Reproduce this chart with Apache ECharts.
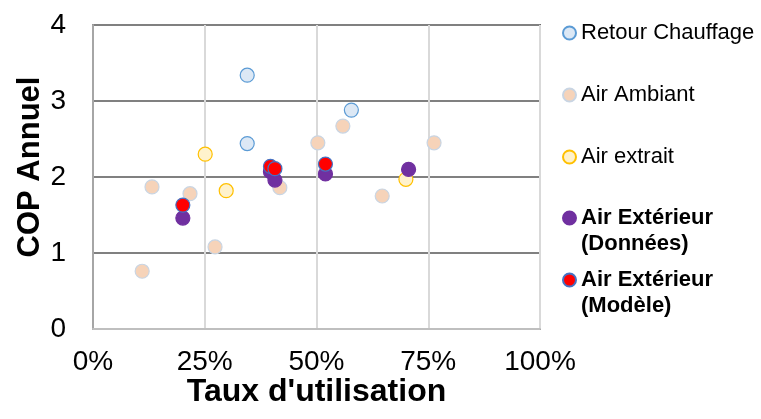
<!DOCTYPE html>
<html>
<head>
<meta charset="utf-8">
<title>COP Annuel</title>
<script src="https://cdn.jsdelivr.net/npm/echarts@6/dist/echarts.min.js"></script>
<style>
    html, body { margin: 0; padding: 0; background: #fff; }
    #chart { width: 761px; height: 419px; }
</style>
</head>
<body>
<div id="chart"></div>
<script>
// 数据：[taux d'utilisation, COP annuel]
const retourChauffage = [[0.345, 3.34], [0.345, 2.44], [0.578, 2.88]];
const airAmbiant = [
    [0.132, 1.87], [0.217, 1.78], [0.110, 0.76], [0.273, 1.08], [0.418, 1.86],
    [0.503, 2.45], [0.559, 2.67], [0.647, 1.75], [0.763, 2.45]
];
const airExtrait = [[0.251, 2.30], [0.298, 1.82], [0.700, 1.97]];
const airExtDonnees = [[0.201, 1.46], [0.397, 2.07], [0.407, 1.96], [0.520, 2.04], [0.706, 2.10]];
const airExtModele = [[0.201, 1.63], [0.397, 2.14], [0.407, 2.11], [0.520, 2.17]];

const seriesNames = [
    'Retour Chauffage',
    'Air Ambiant',
    'Air extrait',
    'Air Extérieur\n(Données)',
    'Air Extérieur\n(Modèle)'
];
const xTicks = [0, 0.25, 0.5, 0.75, 1];
const yTicks = [0, 1, 2, 3, 4];

const FONT = '"Liberation Sans", Arial, sans-serif';

const styles = [
    { color: '#dce8f5', borderColor: '#5b9bd5' },
    { color: '#f6d3b9', borderColor: '#c9d5e3' },
    { color: '#fff2cc', borderColor: '#ffc000' },
    { color: '#7030a0', borderColor: '#7030a0' },
    { color: '#ff0000', borderColor: '#4472c4' }
];
const seriesData = [retourChauffage, airAmbiant, airExtrait, airExtDonnees, airExtModele];

// 图例位置（图标中心）
const legendCenters = [33, 95, 157, 218, 280];

function makeLegend(name, i) {
    const twoLines = name.indexOf('\n') >= 0;
    return {
        data: [name],
        orient: 'vertical',
        left: 562,
        // 两行图例：前面加一个空行，让图标对齐第一行
        top: twoLines ? legendCenters[i] - 39 : legendCenters[i] - 13,
        padding: 0,
        icon: 'circle',
        itemWidth: 13,
        itemHeight: 13,
        selectedMode: false,
        formatter: n => (twoLines ? '\u00a0\n' + n : n),
        textStyle: {
            fontFamily: FONT,
            fontSize: 22,
            lineHeight: 26,
            color: '#000',
            fontWeight: twoLines ? 'bold' : 'normal'
        }
    };
}

const chart = echarts.init(document.getElementById('chart'));

const option = {
    animation: false,
    textStyle: { fontFamily: FONT },
    grid: {
        left: 93,
        right: 221,
        top: 25,
        bottom: 90,
        show: true,
        borderColor: '#6e6e6e',
        borderWidth: 2
    },
    legend: seriesNames.map(makeLegend),
    xAxis: {
        type: 'value',
        min: xTicks[0],
        max: xTicks[xTicks.length - 1],
        interval: 0.25,
        name: "Taux d'utilisation",
        nameLocation: 'middle',
        nameGap: 47,
        nameMoveOverlap: false,
        nameTextStyle: { fontSize: 32, fontWeight: 'bold', color: '#000', fontFamily: FONT },
        axisLine: { show: true, lineStyle: { color: '#bfbfbf', width: 2 } },
        axisTick: { show: false },
        axisLabel: {
            fontSize: 28,
            color: '#000',
            margin: 19,
            formatter: v => Math.round(v * 100) + '%'
        },
        splitLine: { show: true, lineStyle: { color: '#d9d9d9', width: 2 } }
    },
    yAxis: {
        type: 'value',
        min: yTicks[0],
        max: yTicks[yTicks.length - 1],
        interval: 1,
        name: 'COP Annuel',
        nameLocation: 'middle',
        nameGap: 47,
        nameMoveOverlap: false,
        nameRotate: 90,
        nameTextStyle: {
            fontSize: 31,
            fontWeight: 'bold',
            color: '#000',
            fontFamily: FONT,
            padding: [0, 0, 0, 20]
        },
        axisLine: { show: true, lineStyle: { color: '#a6a6a6', width: 2 } },
        axisTick: { show: false },
        axisLabel: { fontSize: 28, color: '#000', margin: 27 },
        splitLine: { show: true, lineStyle: { color: '#808080', width: 2 } }
    },
    series: seriesNames.map((name, i) => ({
        name: name,
        type: 'scatter',
        symbol: 'circle',
        symbolSize: 14,
        data: seriesData[i],
        itemStyle: {
            color: styles[i].color,
            borderColor: styles[i].borderColor,
            borderWidth: 1.2,
            opacity: 1
        },
        z: 2 + i
    }))
};

chart.setOption(option);
</script>
</body>
</html>
